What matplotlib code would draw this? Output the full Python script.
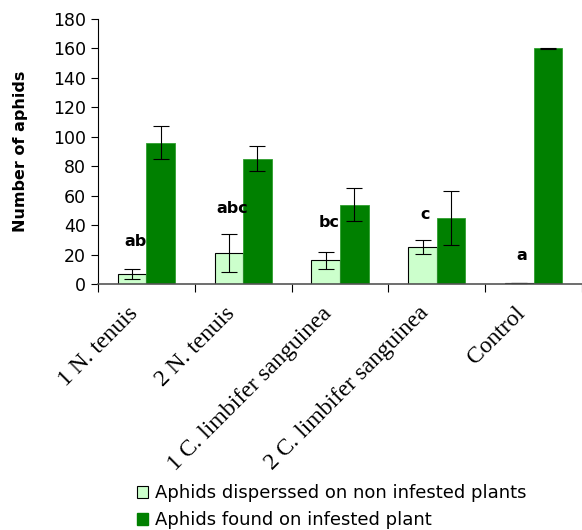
import numpy as np
import matplotlib
matplotlib.use("Agg")
import matplotlib.pyplot as plt
from matplotlib.patches import Patch

categories = ["1 N. tenuis", "2 N. tenuis", "1 C. limbifer sanguinea",
              "2 C. limbifer sanguinea", "Control"]
dispersed = [7, 21, 16, 25, 0.5]
dispersed_err = [3.5, 13, 5.5, 4.7, 0]
infested = [96, 85, 54, 45, 160]
infested_err = [11, 8.5, 11.5, 18.5, 0.3]
letters = ["ab", "abc", "bc", "c", "a"]
letter_y = [29, 51, 42, 47, 19.5]

light = "#ccffcc"
dark = "#008000"

fig = plt.figure(figsize=(5.82, 5.30), dpi=100)
ax = fig.add_axes([98 / 582, 1 - 284 / 530, 484 / 582, 265 / 530])

x = np.arange(len(categories))
w = 0.295
ebar = dict(elinewidth=0.8, capthick=0.8)
ax.bar(x - w / 2, dispersed, w, color=light, edgecolor="black", linewidth=0.8,
       yerr=dispersed_err, capsize=5.5, error_kw=ebar)
ax.bar(x + w / 2, infested, w, color=dark, edgecolor="#2e9e2e", linewidth=0.6,
       yerr=infested_err, capsize=5.5, error_kw=ebar)

for i, (t, yy) in enumerate(zip(letters, letter_y)):
    ax.text(i - w / 2 + 0.03, yy, t, ha="center", va="center",
            fontsize=11.5, fontweight="bold")

ax.set_xlim(-0.5, len(categories) - 0.5)
ax.set_ylim(0, 180)
ax.set_yticks(np.arange(0, 181, 20))
ax.tick_params(axis="y", labelsize=12.5, length=5, width=0.8, direction="out")

# boundary ticks only, names drawn rotated below
ax.set_xticks(np.arange(-0.5, len(categories)), [])
ax.tick_params(axis="x", length=6, width=0.8, direction="out")
for i, cat in enumerate(categories):
    ax.annotate(cat, xy=(i, 0), xycoords=("data", "axes fraction"),
                xytext=(-13.5, -13.5), textcoords="offset points",
                rotation=45, ha="right", va="top", rotation_mode="anchor",
                family="Liberation Serif", fontsize=17)

ax.spines["top"].set_visible(False)
ax.spines["right"].set_visible(False)
ax.spines["left"].set_linewidth(0.8)
ax.spines["bottom"].set_color("#555555")
ax.spines["bottom"].set_linewidth(1.2)

ax.set_ylabel("Number of aphids", fontsize=11.5, fontweight="bold", labelpad=18)

handles = [Patch(facecolor=light, edgecolor="black", linewidth=0.8),
           Patch(facecolor=dark, edgecolor=dark)]
fig.legend(handles, ["Aphids disperssed on non infested plants",
                     "Aphids found on infested plant"],
           loc="upper left", bbox_to_anchor=(130 / 582, 1 - 477 / 530),
           frameon=False, prop=dict(size=13),
           handlelength=0.6, handleheight=0.6, handletextpad=0.4,
           labelspacing=0.5, borderaxespad=0)

fig.savefig("out.png", dpi=100)
